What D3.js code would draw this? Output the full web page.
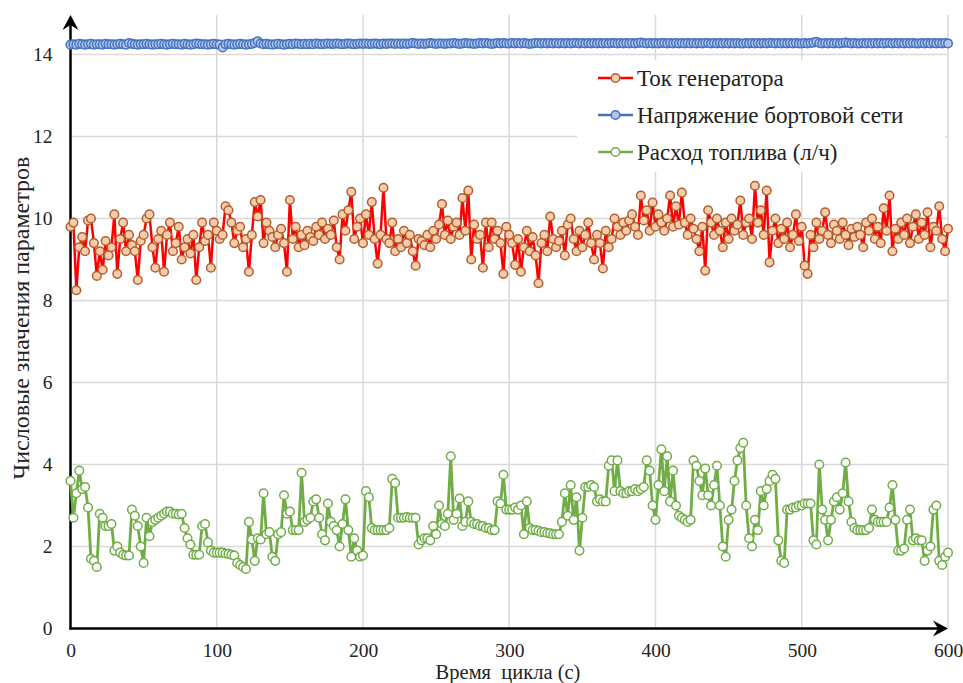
<!DOCTYPE html>
<html><head><meta charset="utf-8">
<script src="https://cdn.jsdelivr.net/npm/d3@7"></script>
<style>body{margin:0;background:#fff}svg{display:block}svg text{font-family:'Liberation Serif','Times New Roman',Tinos,'DejaVu Serif',serif;fill:#222;white-space:pre}</style>
</head><body>
<svg id="c" width="963" height="683"></svg>
<script>
const xTicks=[0,100,200,300,400,500,600];
const yTicks=[0,2,4,6,8,10,12,14];
const seriesNames=["Ток генератора","Напряжение бортовой сети","Расход топлива (л/ч)"];
const xTitle="Время  цикла (с)";
const yTitle="Числовые значения параметров";
const timeStep=2;
const current=[
9.8,9.9,8.25,9.3,9.55,9.2,9.95,10.0,9.4,8.6,
9.2,8.75,9.45,9.1,9.3,10.1,8.65,9.5,9.9,9.2,
9.6,9.35,9.2,8.5,9.45,9.6,10.0,10.1,9.3,8.8,
9.5,9.7,8.7,9.6,9.9,9.2,9.4,9.8,9.0,9.3,
9.5,9.15,9.6,8.5,9.3,9.9,9.45,9.6,8.8,9.9,
9.7,9.5,9.6,10.3,10.2,9.9,9.4,9.7,9.8,9.3,
9.5,8.7,9.6,10.4,10.05,10.45,9.4,9.9,9.7,9.55,
9.3,9.6,9.75,9.4,8.7,10.45,9.5,9.8,9.3,9.6,
9.35,9.7,9.55,9.45,9.8,9.6,9.9,9.5,9.75,9.6,
9.95,9.3,9.0,10.1,9.7,10.2,10.65,9.5,9.8,10.0,
9.4,10.1,9.6,10.4,9.5,8.9,9.6,10.75,9.5,9.4,
9.9,9.2,9.5,9.3,9.7,9.4,9.6,9.2,8.85,9.5,
9.45,9.35,9.6,9.3,9.7,9.5,9.85,10.35,9.6,9.95,
9.5,9.8,9.9,9.6,10.5,9.7,10.68,9.0,9.85,9.5,
9.6,8.8,9.9,9.3,9.9,9.5,9.7,9.4,8.65,9.8,
9.6,9.4,8.87,9.5,8.7,9.3,9.7,9.2,9.55,9.1,
8.42,9.4,9.6,9.2,10.05,9.5,9.3,9.45,9.7,9.1,
9.85,10.0,9.5,9.2,9.7,9.3,9.6,9.9,9.4,9.0,
9.6,9.4,8.78,9.7,9.3,9.5,10.0,9.8,9.6,9.9,
9.7,9.95,10.1,9.8,9.6,10.56,9.95,10.2,9.7,10.39,
9.8,10.1,9.9,9.7,10.0,10.56,9.8,10.3,9.85,10.63,
9.9,9.6,10.0,9.75,9.5,9.2,9.8,8.73,10.2,9.9,
9.6,10.0,9.7,9.3,9.9,9.5,10.0,9.7,9.85,10.44,
9.6,9.9,10.0,9.5,10.8,9.9,10.2,9.6,10.68,8.93,
9.7,10.0,9.4,9.75,9.5,9.9,9.3,9.6,10.1,9.45,
9.8,8.85,8.65,9.6,9.3,9.9,9.5,9.7,10.15,9.6,
9.4,9.85,9.7,9.5,9.9,9.6,9.35,9.75,9.55,9.8,
9.6,9.3,9.9,9.7,10.0,9.5,9.8,9.4,10.25,9.7,
10.56,9.2,9.75,9.5,9.9,9.6,10.0,9.4,9.8,10.1,
9.5,9.9,9.6,10.15,9.3,9.8,9.7,10.3,9.5,9.2,
9.75];
const voltage=[
14.24,14.25,14.24,14.26,14.25,14.24,14.25,14.26,14.24,14.25,
14.25,14.24,14.26,14.25,14.25,14.24,14.25,14.26,14.25,14.24,
14.28,14.26,14.25,14.24,14.25,14.25,14.26,14.25,14.24,14.25,
14.25,14.26,14.25,14.24,14.25,14.26,14.25,14.25,14.24,14.26,
14.25,14.24,14.25,14.27,14.26,14.25,14.25,14.24,14.25,14.26,
14.25,14.24,14.17,14.25,14.26,14.25,14.24,14.25,14.26,14.25,
14.24,14.25,14.26,14.28,14.32,14.27,14.25,14.26,14.25,14.24,
14.25,14.26,14.25,14.24,14.25,14.26,14.25,14.27,14.26,14.25,
14.26,14.25,14.26,14.25,14.27,14.26,14.25,14.26,14.27,14.26,
14.26,14.27,14.26,14.25,14.26,14.27,14.26,14.25,14.26,14.27,
14.26,14.27,14.26,14.26,14.27,14.26,14.25,14.27,14.26,14.27,
14.27,14.26,14.27,14.26,14.27,14.26,14.27,14.28,14.27,14.26,
14.27,14.26,14.27,14.28,14.27,14.26,14.27,14.27,14.26,14.27,
14.27,14.28,14.27,14.26,14.27,14.28,14.27,14.27,14.26,14.27,
14.28,14.27,14.28,14.27,14.26,14.27,14.28,14.27,14.28,14.27,
14.27,14.28,14.27,14.28,14.27,14.28,14.27,14.26,14.27,14.28,
14.28,14.27,14.28,14.27,14.28,14.27,14.28,14.27,14.28,14.27,
14.28,14.27,14.28,14.28,14.27,14.28,14.27,14.28,14.27,14.28,
14.27,14.28,14.27,14.28,14.27,14.28,14.28,14.27,14.28,14.27,
14.28,14.27,14.28,14.27,14.28,14.29,14.28,14.27,14.28,14.27,
14.28,14.27,14.28,14.28,14.27,14.28,14.27,14.28,14.27,14.28,
14.27,14.28,14.27,14.28,14.27,14.28,14.27,14.28,14.28,14.27,
14.28,14.27,14.28,14.27,14.28,14.27,14.28,14.27,14.28,14.27,
14.27,14.28,14.27,14.28,14.27,14.28,14.27,14.28,14.27,14.28,
14.28,14.27,14.28,14.27,14.28,14.27,14.28,14.27,14.28,14.27,
14.27,14.28,14.27,14.28,14.29,14.31,14.28,14.27,14.28,14.27,
14.28,14.27,14.28,14.27,14.28,14.29,14.28,14.27,14.28,14.27,
14.27,14.28,14.27,14.28,14.27,14.28,14.27,14.28,14.27,14.28,
14.28,14.27,14.28,14.27,14.28,14.27,14.28,14.27,14.28,14.27,
14.27,14.28,14.27,14.28,14.27,14.28,14.27,14.28,14.27,14.28,
14.27];
const fuel=[
3.6,2.7,3.3,3.85,3.4,3.45,2.95,1.7,1.65,1.5,
2.8,2.7,2.5,2.5,2.55,1.9,2.0,1.85,1.8,1.78,
1.78,2.9,2.75,2.5,2.0,1.6,2.7,2.25,2.6,2.65,
2.7,2.75,2.8,2.85,2.85,2.8,2.8,2.78,2.8,2.45,
2.2,2.05,1.8,1.8,1.8,2.5,2.55,2.1,1.9,1.85,
1.85,1.85,1.85,1.83,1.82,1.8,1.78,1.6,1.55,1.5,
1.45,2.6,2.17,1.65,2.2,2.17,3.3,2.3,2.35,1.75,
1.65,2.3,2.35,3.25,2.8,2.85,2.4,2.4,2.4,3.8,
2.6,2.65,2.7,3.1,3.15,2.7,2.3,2.15,
3.05,2.6,2.5,2.4,2.0,2.55,3.15,2.4,1.75,2.2,
1.9,1.75,1.78,3.35,3.2,2.45,2.4,2.4,2.4,2.4,
2.4,2.45,3.65,3.55,2.7,2.7,2.7,2.72,2.7,2.7,
2.7,2.05,2.15,2.2,2.2,2.15,2.5,2.3,3.0,2.55,
2.5,2.8,4.2,2.65,2.8,3.17,2.5,2.6,3.1,2.6,
2.55,2.55,2.5,2.5,2.45,2.45,2.4,2.4,3.1,3.05,
3.75,2.9,2.9,2.9,2.95,2.9,3.0,2.3,3.1,2.45,
2.4,2.4,2.38,2.35,2.35,2.33,2.32,2.3,2.3,2.3,
2.6,3.3,2.75,3.5,2.65,3.2,1.9,2.7,3.45,3.45,
3.5,3.45,3.1,3.15,3.1,3.1,3.97,4.1,3.35,4.1,
3.35,3.3,3.3,3.35,3.35,3.4,3.35,3.4,3.45,4.1,
3.85,3.0,2.65,3.5,4.37,3.35,4.2,3.1,3.85,3.0,
2.75,2.7,2.65,2.6,2.65,4.1,3.97,3.6,3.25,3.9,
3.25,3.0,3.5,3.97,3.0,2.0,1.75,2.65,2.9,3.6,
4.1,4.4,4.53,3.0,2.2,2.0,2.65,2.4,3.35,3.0,
3.4,3.6,3.75,3.65,2.15,1.65,1.6,2.9,2.9,2.95,
2.95,3.0,3.0,3.05,3.05,3.05,2.15,2.05,4.0,2.9,
2.65,2.15,2.65,3.1,3.2,2.9,3.3,4.05,3.1,2.6,
2.45,2.4,2.4,2.4,2.4,2.45,2.9,2.65,2.6,2.6,
2.6,2.6,2.95,3.5,2.65,1.9,1.9,1.95,2.65,2.9,
2.15,2.2,2.15,2.15,1.65,1.9,2.0,2.9,3.0,1.65,
1.55,1.75,1.85];

const FONT="'Liberation Serif','Times New Roman',Tinos,'DejaVu Serif',serif";
const svg=d3.select("#c");
const x=d3.scaleLinear().domain([0,600]).range([70.5,948]);
const y=d3.scaleLinear().domain([0,14]).range([628.5,54.5]);
const topY=15;

// grid
const g=svg.append("g");
g.selectAll(".hg").data(yTicks.filter(d=>d>0)).join("line")
 .attr("x1",x(0)).attr("x2",x(600)).attr("y1",d=>y(d)).attr("y2",d=>y(d))
 .attr("stroke","#d9d9d9").attr("stroke-width",1.5);
g.selectAll(".vg").data(xTicks.filter(d=>d>0)).join("line")
 .attr("x1",d=>x(d)).attr("x2",d=>x(d)).attr("y1",topY).attr("y2",y(0))
 .attr("stroke","#d9d9d9").attr("stroke-width",1.5);

// axes (tick labels via d3 axes)
const xAxis=svg.append("g").attr("transform",`translate(0,${y(0)})`)
 .call(d3.axisBottom(x).tickValues(xTicks).tickSize(0).tickPadding(15));
xAxis.attr("font-family",FONT);
xAxis.select(".domain").remove();
xAxis.selectAll("text").attr("font-size",19.5).attr("fill","#222").attr("font-family",FONT);
const yAxis=svg.append("g").attr("transform",`translate(${x(0)},0)`)
 .call(d3.axisLeft(y).tickValues(yTicks).tickSize(0).tickPadding(18));
yAxis.attr("font-family",FONT);
yAxis.select(".domain").remove();
yAxis.selectAll("text").attr("font-size",19.5).attr("fill","#222").attr("font-family",FONT);

// axis lines with arrows
svg.append("line").attr("x1",x(0)).attr("x2",x(0)).attr("y1",y(0)+1).attr("y2",topY+6)
 .attr("stroke","#000").attr("stroke-width",2.5);
svg.append("line").attr("x1",x(0)-1).attr("x2",x(600)-6).attr("y1",y(0)).attr("y2",y(0))
 .attr("stroke","#000").attr("stroke-width",2.5);
const ax=x(0), ay=topY;
svg.append("path").attr("d",`M${ax},${ay} L${ax+8},${ay+15} L${ax},${ay+10} L${ax-8},${ay+15} Z`).attr("fill","#000");
const bx=x(600), by=y(0);
svg.append("path").attr("d",`M${bx},${by} L${bx-15},${by-8} L${bx-10},${by} L${bx-15},${by+8} Z`).attr("fill","#000");

// series
const styles=[
 {data:current,line:"#ff0000",fill:"#f8cbad",stroke:"#b0602c",lw:2.5},
 {data:voltage,line:"#4472c4",fill:"#b4c7e7",stroke:"#4472c4",lw:2.5},
 {data:fuel,line:"#70ad47",fill:"#ffffff",stroke:"#70ad47",lw:2.8}
];
const line=d3.line().x((d,i)=>x(i*timeStep)).y(d=>y(d));
styles.forEach(s=>{
 const sg=svg.append("g");
 sg.append("path").datum(s.data).attr("d",line).attr("fill","none").attr("stroke",s.line).attr("stroke-width",s.lw).attr("stroke-linejoin","round");
 sg.selectAll("circle").data(s.data).join("circle")
  .attr("cx",(d,i)=>x(i*timeStep)).attr("cy",d=>y(d)).attr("r",4.3)
  .attr("fill",s.fill).attr("stroke",s.stroke).attr("stroke-width",1.5);
});

// legend
const lg=svg.append("g");
lg.append("rect").attr("x",577).attr("y",60).attr("width",368).attr("height",112).attr("fill","#fff");
const rowsY=[78,115,152];
styles.forEach((s,i)=>{
 lg.append("line").attr("x1",598).attr("x2",633).attr("y1",rowsY[i]).attr("y2",rowsY[i]).attr("stroke",s.line).attr("stroke-width",2.5);
 lg.append("circle").attr("cx",615.5).attr("cy",rowsY[i]).attr("r",4.3).attr("fill",s.fill).attr("stroke",s.stroke).attr("stroke-width",1.5);
 lg.append("text").attr("x",637).attr("y",rowsY[i]+7.5).attr("font-size",23).attr("font-family",FONT).text(seriesNames[i]);
});

// titles
svg.append("text").attr("x",508).attr("y",679).attr("text-anchor","middle").attr("font-size",20.5).attr("font-family",FONT)
 .attr("xml:space","preserve").text(xTitle);
svg.append("text").attr("transform","translate(29,318) rotate(-90)").attr("text-anchor","middle").attr("font-size",24).attr("font-family",FONT).text(yTitle);
</script>
</body></html>
